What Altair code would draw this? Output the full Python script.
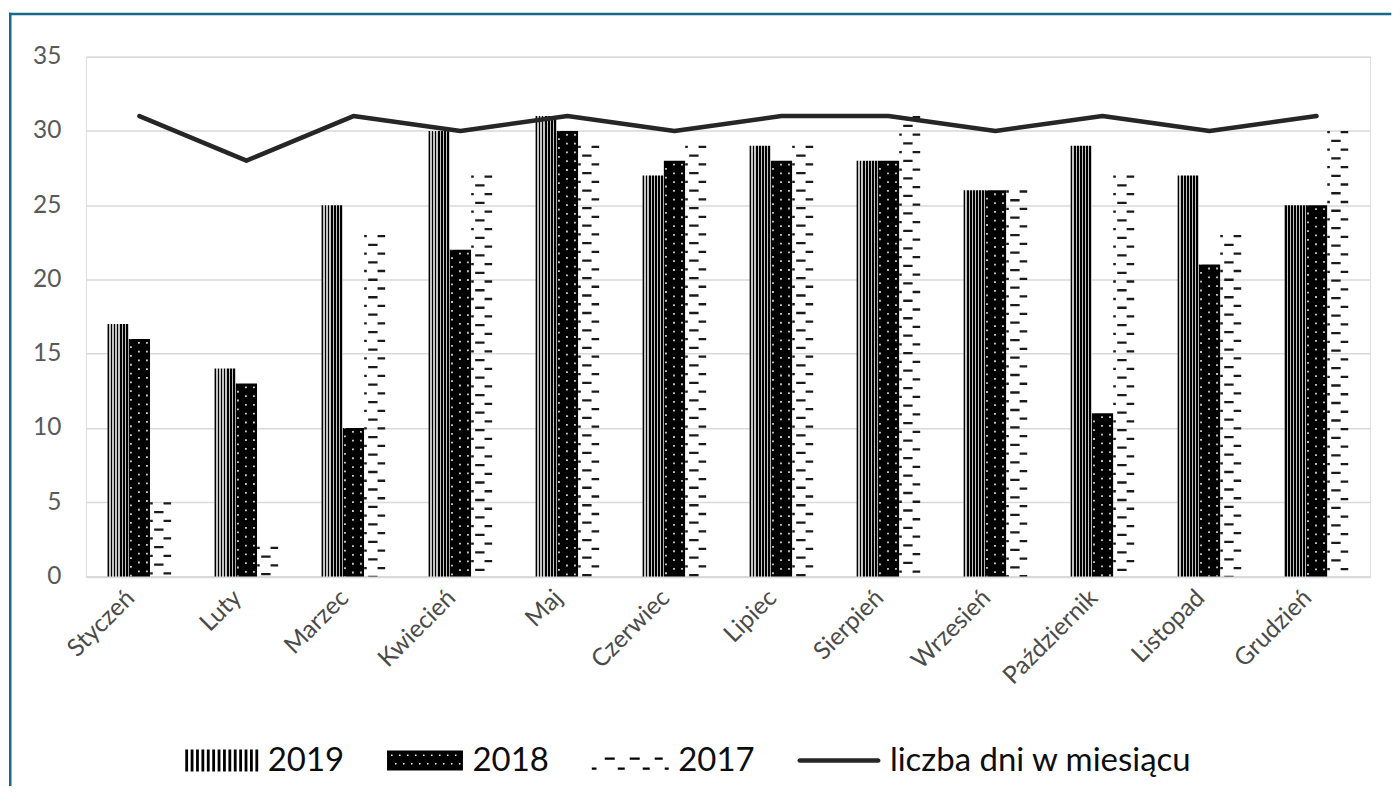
import altair as alt
import pandas as pd

months = ["Styczeń", "Luty", "Marzec", "Kwiecień", "Maj", "Czerwiec", "Lipiec",
          "Sierpień", "Wrzesień", "Październik", "Listopad", "Grudzień"]
v2019 = [17, 14, 25, 30, 31, 27, 29, 28, 26, 29, 27, 25]
v2018 = [16, 13, 10, 22, 30, 28, 28, 28, 26, 11, 21, 25]
v2017 = [5, 2, 23, 27, 29, 29, 29, 31, 26, 27, 23, 30]
days = [31, 28, 31, 30, 31, 30, 31, 31, 30, 31, 30, 31]
years = ["2019", "2018", "2017"]
line_label = "liczba dni w miesiącu"
y_ticks = [0, 5, 10, 15, 20, 25, 30, 35]

rows = []
for yr, vals in zip(years, [v2019, v2018, v2017]):
    for m, v in zip(months, vals):
        rows.append({"month": m, "year": yr, "value": v})
bars_df = pd.DataFrame(rows)
line_df = pd.DataFrame({"month": months, "value": days})
leg_labels = years + [line_label]
leg_df = pd.DataFrame({"series": leg_labels})

FONT = "Lato"
GRAY = "#595959"
W, H = 1285.7, 520.5

x_scale = alt.Scale(domain=months, paddingInner=0.405, paddingOuter=0.2025)
x_axis = alt.Axis(title=None, labelAngle=315, labelAlign="right", labelBaseline="bottom",
                  labelFont=FONT, labelFontSize=24.5,
                  labelColor="#4a4a4a", ticks=False, domainColor="#d9d9d9", domainWidth=2,
                  labelPadding=26, grid=False)
y_scale = alt.Scale(domain=[0, 35], nice=False)
y_axis = alt.Axis(title=None, values=y_ticks, grid=True, gridColor="#d9d9d9", gridWidth=1.5,
                  domain=False, ticks=False, labelFont=FONT, labelFontSize=24.5,
                  labelColor=GRAY, labelPadding=25)


def X(band=None):
    if band is None:
        return alt.X("month:N", sort=months, scale=x_scale, axis=x_axis)
    return alt.X("month:N", sort=months, scale=x_scale, axis=x_axis, bandPosition=band)


Y = alt.Y("value:Q", scale=y_scale, axis=y_axis)
xoff = alt.XOffset("year:N", scale=alt.Scale(domain=years, paddingInner=0, paddingOuter=0))

# vertical stripes gradient for 2019
n = 7
stops = []
for i in range(n):
    a = i / n
    b = (i + 0.6) / n
    c = (i + 1) / n
    stops += [alt.GradientStop(color="#000000", offset=a), alt.GradientStop(color="#000000", offset=b),
              alt.GradientStop(color="#c4c4c4", offset=b), alt.GradientStop(color="#c4c4c4", offset=c)]
stripes = alt.LinearGradient(gradient="linear", stops=stops, x1=0, x2=1, y1=0, y2=0)

base = alt.Chart(bars_df)
b2019 = base.transform_filter(alt.datum.year == "2019").mark_bar(fill=stripes).encode(
    x=X(), xOffset=xoff, y=Y)
b2018 = base.transform_filter(alt.datum.year == "2018").mark_bar(fill="#000000").encode(
    x=X(), xOffset=xoff, y=Y)

dots = []
for off, ph in [(-8.5, 4.4), (-0.5, 0), (7.5, 0)]:
    dots.append(base.transform_filter(alt.datum.year == "2018").mark_rule(
        xOffset=off, stroke="#d0d0d0", strokeWidth=1.8, strokeDash=[1.8, 7.0], strokeDashOffset=ph - 3
    ).encode(x=X(0.5), y=Y, y2=alt.datum(0)))

dashes = []
for off, wdt, ph in [(-1.8, 9.4, 8.75), (6.7, 7.6, 0), (-9.2, 2.6, 0)]:
    dashes.append(base.transform_filter(alt.datum.year == "2017").mark_rule(
        xOffset=off, stroke="#1a1a1a", strokeWidth=wdt, strokeDash=[2.3, 15.2], strokeDashOffset=ph
    ).encode(x=X(5 / 6), y=Y, y2=alt.datum(0)))

line = alt.Chart(line_df).mark_line(stroke="#262626", strokeWidth=4.5, strokeCap="round",
                                    strokeJoin="round").encode(x=X(), y=Y)

# legend symbol paths (units of 10px)
p19 = []
nstr = 14
left, right, sw = -3.7, 3.6, 0.28
per = (right - left - sw) / (nstr - 1)
for i in range(nstr):
    x0 = left + i * per
    p19.append(f"M{x0:.3f},-1.1H{x0 + sw:.3f}V1.1H{x0:.3f}Z")
path19 = "".join(p19)

p18 = ["M-4,-1H3.6V1H-4Z"]
for r, yy in enumerate([-0.6, 0.25]):
    xx = -3.6 + (0.4 if r else 0)
    while xx < 3.4:
        p18.append(f"M{xx:.2f},{yy:.2f}V{yy + 0.15:.2f}H{xx + 0.15:.2f}V{yy:.2f}Z")
        xx += 0.8
path18 = "".join(p18)

low = [(-4.1, -3.63), (-1.5, -0.8), (1.0, 1.7), (3.2, 3.6)]
high = [(-2.8, -1.8), (-0.3, 0.7), (2.2, 3.0)]
p17 = []
for a, b in low:
    p17.append(f"M{a},0.69H{b}V0.91H{a}Z")
for a, b in high:
    p17.append(f"M{a},-0.31H{b}V-0.09H{a}Z")
path17 = "".join(p17)

pline = "M-4.47,-0.23H3.37A0.23,0.23 0 0 1 3.37,0.23H-4.47A0.23,0.23 0 0 1 -4.47,-0.23Z"

leg = alt.Legend(orient="none", legendX=120, legendY=688, direction="horizontal", title=None,
                 symbolSize=400, symbolStrokeWidth=0, symbolOpacity=1, labelFont=FONT,
                 labelFontSize=33, labelColor="#0d0d0d", labelOffset=29, columnPadding=42,
                 padding=0, labelLimit=600)
legend_layer = alt.Chart(leg_df).mark_point(filled=True, opacity=0, size=1).encode(
    x=alt.value(0), y=alt.value(0),
    fill=alt.Fill("series:N", sort=leg_labels,
                  scale=alt.Scale(domain=leg_labels, range=["#000000", "#000000", "#000000", "#262626"]),
                  legend=leg),
    shape=alt.Shape("series:N", sort=leg_labels,
                    scale=alt.Scale(domain=leg_labels, range=[path19, path18, path17, pline]),
                    legend=leg),
)

frame_src = alt.Data(values=[{"k": 0}])
FR = "#15698c"
frame_left = alt.Chart(frame_src).mark_rule(stroke=FR, strokeWidth=2.5, strokeCap="square").encode(
    x=alt.value(-75.75), y=alt.value(-42.8), y2=alt.value(729))
frame_top = alt.Chart(frame_src).mark_rule(stroke=FR, strokeWidth=2.5, strokeCap="square").encode(
    x=alt.value(-75.75), x2=alt.value(1305.75), y=alt.value(-42.8))

chart = alt.layer(b2019, b2018, *dots, *dashes, line, legend_layer, frame_left, frame_top).properties(
    width=W, height=H, padding={"left": 0, "top": 3.25, "right": 0, "bottom": 0}
).configure_view(stroke=None).configure(background="white")

chart.save("out.html", embed_options={"renderer": "svg", "actions": False})
